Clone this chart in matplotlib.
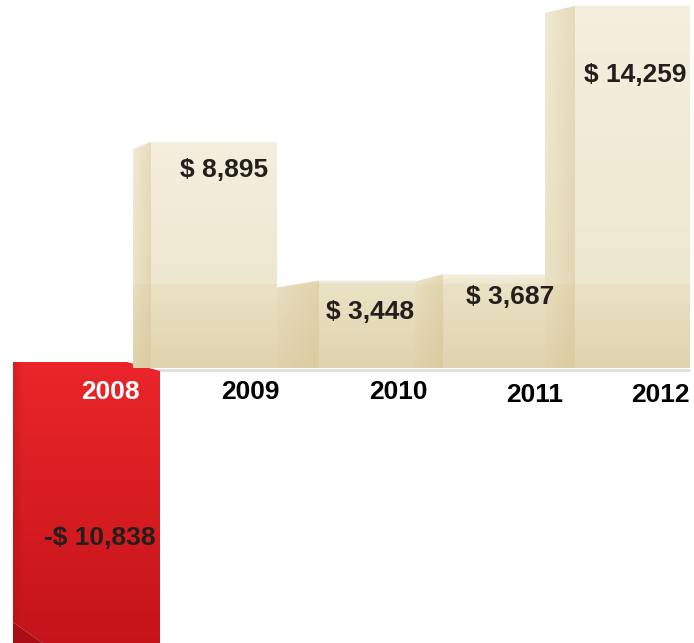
import numpy as np
import matplotlib.pyplot as plt
from matplotlib.patches import Polygon

years = ['2008', '2009', '2010', '2011', '2012']
profit = [-10838, 8895, 3448, 3687, 14259]
profit_labels = ['-$ 10,838', '$ 8,895', '$ 3,448', '$ 3,687', '$ 14,259']

# horizontal layout in pixels
bar_left = [13, 133, 277, 415, 545]
bar_width = [147, 144, 138, 145, 145]
side_width = [0, 18, 42, 28, 30]
value_pos = [(100, 538), (224, 170), (370, 312), (510, 297), (635, 75)]
year_pos = [(110, 392), (250, 392), (398, 392), (535, 395), (660, 395)]

W, H = 694, 643
BASE = 368        # pixel row of the zero line
SCALE = 0.0254    # pixels per dollar


def to_val(py):
    return (BASE - py) / SCALE


def lerp(a, b, t):
    a = np.asarray(a, float) / 255
    b = np.asarray(b, float) / 255
    t = np.asarray(t, float)[..., None]
    return a + (b - a) * t


def tan_image(w, hpx, sw):
    rows = np.arange(hpx)
    d = hpx - rows  # distance above baseline
    band = 85
    t_up = np.clip((hpx - d) / max(hpx - band, 1), 0, 1)
    upper = lerp((244, 239, 222), (238, 231, 207), t_up)
    lower = lerp((235, 226, 197), (224, 211, 174), 1 - d / band)
    col = np.where((d >= band)[:, None], upper, lower)
    img = np.repeat(col[:, None, :], w, axis=1)
    if sw > 0:
        u = np.arange(w) / sw
        side = np.clip(u, 0, 1)
        mix = np.where(u < 1, 0.12 + 0.33 * side, 0.0)
        dark = np.array([212, 192, 142]) / 255
        img = img * (1 - mix[None, :, None]) + dark * mix[None, :, None]
    return img


def red_image(w, hpx):
    t = np.arange(hpx) / hpx
    col = lerp((234, 38, 42), (196, 20, 26), t)
    img = np.repeat(col[:, None, :], w, axis=1)
    u = np.arange(w)
    mix = np.where(u < 10, 0.25 * (1 - u / 10), 0.0)
    dark = np.array([150, 10, 15]) / 255
    return img * (1 - mix[None, :, None]) + dark * mix[None, :, None]


fig = plt.figure(figsize=(W / 100, H / 100), dpi=100)
ax = fig.add_axes([0, 0, 1, 1])
ax.set_xlim(0, W)
ax.set_ylim(to_val(H), to_val(0))
ax.axis('off')

bars = ax.bar(bar_left, profit, width=bar_width, align='edge',
              color='none', edgecolor='none')

cut = 7 / SCALE
for i, b in enumerate(bars):
    x0, w, h = b.get_x(), b.get_width(), b.get_height()
    z = 1 + i
    if h < 0:
        top = 6 / SCALE
        pts = [(x0, top), (x0 + w - 33, top), (x0 + w, top - 9 / SCALE),
               (x0 + w, h), (x0 + 30, h), (x0, h + 21 / SCALE)]
        poly = Polygon(pts, closed=True, facecolor='none', edgecolor='none')
        ax.add_patch(poly)
        hpx = int(round((top - h) * SCALE))
        im = ax.imshow(red_image(int(w), hpx), extent=(x0, x0 + w, h, top),
                       aspect='auto', zorder=z, interpolation='bilinear')
        im.set_clip_path(poly)
        # side face at the foot of the bar
        foot = Polygon([(x0, h + 21 / SCALE), (x0 + 30, h), (x0, h)],
                       closed=True, facecolor='#a80e14', edgecolor='none',
                       zorder=z + 0.1)
        ax.add_patch(foot)
    else:
        sw = side_width[i]
        pts = [(x0, 0), (x0, h - cut), (x0 + sw, h), (x0 + w, h), (x0 + w, 0)]
        poly = Polygon(pts, closed=True, facecolor='none', edgecolor='none')
        ax.add_patch(poly)
        hpx = int(round(h * SCALE))
        im = ax.imshow(tan_image(int(w), hpx, sw), extent=(x0, x0 + w, 0, h),
                       aspect='auto', zorder=z, interpolation='bilinear')
        im.set_clip_path(poly)

# soft shadow along the foot of the positive bars
ax.plot([bar_left[1] + 4, bar_left[-1] + bar_width[-1]],
        [-2 / SCALE, -2 / SCALE], color='#9a9488', lw=2, alpha=0.3,
        zorder=0.5, solid_capstyle='butt')

font = 'Liberation Sans'
for i, (lab, (px, py)) in enumerate(zip(profit_labels, value_pos)):
    ax.text(px, to_val(py), lab, ha='center', va='center', fontsize=19,
            fontweight='bold', family=font, color='#231f1c', zorder=10)

for i, (yr, (px, py)) in enumerate(zip(years, year_pos)):
    color = 'white' if profit[i] < 0 else 'black'
    ax.text(px, to_val(py), yr, ha='center', va='center', fontsize=19,
            fontweight='bold', family=font, color=color, zorder=10)

fig.savefig('out.png', dpi=100, facecolor='white')
